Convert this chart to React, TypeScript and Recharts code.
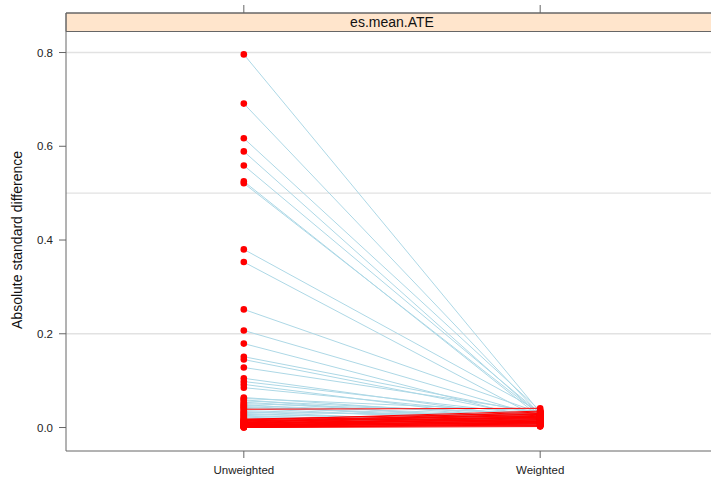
import { LineChart, Line, XAxis, YAxis, ReferenceLine, ReferenceArea } from 'recharts'

// absolute standard differences per covariate, before and after weighting
const unweighted = [
  0.796, 0.691, 0.617, 0.589, 0.559, 0.525, 0.521, 0.38, 0.353, 0.252, 0.207, 0.179, 0.151, 0.145, 0.128,
  0.105, 0.098, 0.092, 0.085,
  0.064, 0.062, 0.059, 0.057, 0.054, 0.051, 0.049, 0.047, 0.045, 0.043, 0.041, 0.036, 0.034, 0.032, 0.03,
  0.028, 0.026, 0.024, 0.022, 0.02,
  0.039,
  0.018, 0.017, 0.016, 0.015, 0.014, 0.013, 0.012, 0.011, 0.01, 0.01, 0.009, 0.008, 0.008, 0.007, 0.006,
  0.006, 0.005, 0.004, 0.004, 0.003, 0.003, 0.002, 0.002, 0.001, 0.001, 0.0, 0.0,
]
const weighted = [
  0.032, 0.028, 0.036, 0.025, 0.03, 0.022, 0.027, 0.034, 0.019, 0.031, 0.024, 0.015, 0.029, 0.021, 0.033,
  0.018, 0.026, 0.012, 0.023,
  0.02, 0.035, 0.01, 0.028, 0.016, 0.031, 0.008, 0.025, 0.014, 0.022, 0.011, 0.018, 0.005, 0.027, 0.009,
  0.015, 0.003, 0.012, 0.006, 0.004,
  0.041,
  0.03, 0.024, 0.035, 0.019, 0.028, 0.022, 0.026, 0.016, 0.033, 0.013, 0.021, 0.017, 0.029, 0.011, 0.024,
  0.009, 0.019, 0.014, 0.007, 0.022, 0.01, 0.016, 0.005, 0.012, 0.004, 0.008, 0.002,
]
const groups = ['Unweighted', 'Weighted']
const yTicks = [0, 0.2, 0.4, 0.6, 0.8]
const effectLines = [0.2, 0.5, 0.8]
const stripTitle = 'es.mean.ATE'

const data = groups.map((g, gi) => {
  const row: Record<string, number> = { x: gi + 1 }
  unweighted.forEach((u, i) => {
    row['v' + i] = gi === 0 ? u : weighted[i]
  })
  return row
})

// blue lines first, then lines where the difference grew (red)
const order = unweighted
  .map((u, i) => i)
  .sort((a, b) => Number(weighted[a] > unweighted[a]) - Number(weighted[b] > unweighted[b]))

const font = '"Liberation Sans", Arial, sans-serif'
const axisColor = '#666'

export default function App() {
  return (
    <div
      style={{
        position: 'absolute',
        left: 0,
        top: 0,
        width: 711,
        height: 478,
        overflow: 'hidden',
        background: '#fff',
        fontFamily: font,
      }}
    >
      <LineChart width={718} height={478} data={data} margin={{ top: 0, right: 0, bottom: 0, left: 0 }}>
        <XAxis
          xAxisId="top"
          orientation="top"
          type="number"
          dataKey="x"
          domain={[0.4, 2.6]}
          ticks={[1, 2]}
          height={13}
          tickSize={8}
          tickFormatter={() => ''}
          stroke={axisColor}
        />
        <XAxis
          type="number"
          dataKey="x"
          domain={[0.4, 2.6]}
          ticks={[1, 2]}
          height={27}
          tickSize={7}
          tickMargin={8}
          tickFormatter={(v) => groups[v - 1]}
          tick={{ fontSize: 11.5, fill: '#222', fontFamily: font }}
          stroke={axisColor}
        />
        <YAxis
          type="number"
          domain={[-0.0501, 0.8843]}
          allowDataOverflow
          ticks={yTicks}
          width={66}
          tickSize={7}
          tickMargin={6}
          tickFormatter={(v) => v.toFixed(1)}
          tick={{ fontSize: 11.5, fill: '#222', fontFamily: font }}
          stroke={axisColor}
          label={{
            content: () => (
              <text
                x={17}
                y={240}
                transform="rotate(-90 17 240)"
                textAnchor="middle"
                dominantBaseline="central"
                fontSize={14}
                fontFamily={font}
                fill="#111"
              >
                Absolute standard difference
              </text>
            ),
          }}
        />
        <ReferenceArea
          y1={0.8448}
          y2={0.8843}
          fill="#ffe5cc"
          fillOpacity={1}
          stroke={axisColor}
          ifOverflow="visible"
          label={{ value: stripTitle, position: 'center', fontSize: 14, fill: '#111', fontFamily: font }}
        />
        {effectLines.map((v) => (
          <ReferenceLine key={'g' + v} y={v} stroke="#e2e2e2" strokeWidth={1.4} />
        ))}
        {order.map((i) => (
          <Line
            key={'l' + i}
            dataKey={'v' + i}
            stroke={weighted[i] > unweighted[i] ? '#ff0000' : '#add8e6'}
            strokeWidth={1}
            dot={false}
            activeDot={false}
            isAnimationActive={false}
          />
        ))}
        {order.map((i) => (
          <Line
            key={'p' + i}
            dataKey={'v' + i}
            stroke="none"
            dot={{ r: 3.3, fill: '#ff0000', stroke: 'none' }}
            activeDot={false}
            isAnimationActive={false}
          />
        ))}
      </LineChart>
    </div>
  )
}
